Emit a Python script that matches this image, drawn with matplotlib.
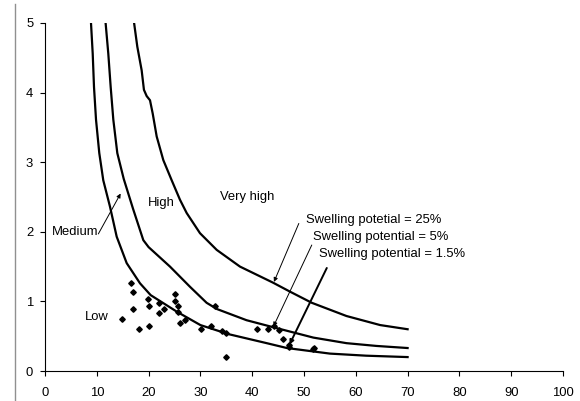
import matplotlib
matplotlib.use("Agg")
import matplotlib.pyplot as plt
from matplotlib.lines import Line2D

plt.rcParams['font.family'] = ['Liberation Sans', 'DejaVu Sans']

# swelling potential boundary curves (clay fraction vs activity)
x_15 = [8.88, 9.21, 9.46, 9.85, 10.48, 11.25, 12.55, 13.84, 15.77, 18.34, 20.4, 25.5, 30.0, 35.4,
        42.8, 46.7, 55.0, 62.0, 70.0]
y_15 = [5.0, 4.56, 4.08, 3.61, 3.13, 2.74, 2.36, 1.93, 1.55, 1.26, 1.09, 0.85, 0.66, 0.53,
        0.40, 0.33, 0.25, 0.22, 0.20]

x_5 = [11.7, 12.22, 12.68, 13.19, 13.96, 15.2, 17.0, 18.98, 20.0, 24.13, 27.99, 31.2, 33.2, 38.9,
       44.0, 51.8, 58.2, 64.0, 70.0]
y_5 = [5.0, 4.56, 4.08, 3.61, 3.13, 2.76, 2.33, 1.88, 1.78, 1.50, 1.21, 0.98, 0.89, 0.73,
       0.63, 0.48, 0.40, 0.36, 0.33]

x_25 = [17.2, 17.82, 18.66, 19.1, 19.63, 20.27, 20.79, 21.56, 22.84, 24.46, 26.06, 27.35, 29.92,
        33.15, 37.64, 44.0, 47.3, 51.5, 58.2, 64.7, 70.0]
y_25 = [5.0, 4.66, 4.32, 4.04, 3.95, 3.89, 3.70, 3.37, 3.03, 2.74, 2.46, 2.27, 1.98,
        1.74, 1.50, 1.27, 1.14, 0.98, 0.79, 0.66, 0.60]

# measured samples
clay = [14.9, 16.6, 17.0, 17.0, 18.1, 19.9, 20.1, 20.1, 22.1, 22.1, 23.0, 25.0, 25.0, 25.6, 25.6,
        26.1, 27.0, 30.1, 32.0, 32.9, 34.1, 35.0, 35.0, 41.0, 43.0, 44.2, 45.2, 46.0, 47.1, 47.1,
        51.7, 52.0]
activity = [0.74, 1.27, 1.14, 0.89, 0.61, 1.03, 0.93, 0.65, 0.97, 0.84, 0.89, 1.10, 1.01, 0.93, 0.85,
            0.69, 0.73, 0.61, 0.64, 0.93, 0.57, 0.54, 0.20, 0.60, 0.60, 0.64, 0.59, 0.46, 0.38, 0.35,
            0.31, 0.33]

fig = plt.figure(figsize=(5.8, 4.01), dpi=100)
ax = fig.add_axes([45 / 580, 30 / 401, 518 / 580, 348 / 401])

ax.plot(x_15, y_15, color='black', lw=1.6)
ax.plot(x_5, y_5, color='black', lw=1.6)
ax.plot(x_25, y_25, color='black', lw=1.6)
ax.plot(clay, activity, 'D', color='black', markersize=2.8, ls='none')

fs = 9.4
ax.text(10.4, 2.0, 'Medium', ha='right', va='center', fontsize=fs)
ax.text(22.4, 2.42, 'High', ha='center', va='center', fontsize=fs)
ax.text(10.0, 0.77, 'Low', ha='center', va='center', fontsize=fs)
ax.text(33.8, 2.50, 'Very high', ha='left', va='center', fontsize=fs)
ax.text(50.4, 2.17, 'Swelling potetial = 25%', ha='left', va='center', fontsize=fs)
ax.text(51.7, 1.93, 'Swelling potential = 5%', ha='left', va='center', fontsize=fs)
ax.text(52.95, 1.68, 'Swelling potential = 1.5%', ha='left', va='center', fontsize=fs)

thin = dict(arrowstyle='-|>', color='black', lw=0.7, mutation_scale=6, shrinkA=0, shrinkB=0)
thick = dict(arrowstyle='-|>', color='black', lw=1.4, mutation_scale=6, shrinkA=0, shrinkB=0)
ax.annotate('', xy=(14.6, 2.55), xytext=(10.3, 1.97), arrowprops=thin)
ax.annotate('', xy=(44.2, 1.28), xytext=(49.0, 2.12), arrowprops=thin)
ax.annotate('', xy=(44.1, 0.64), xytext=(51.5, 1.81), arrowprops=thin)
ax.annotate('', xy=(47.2, 0.38), xytext=(54.4, 1.48), arrowprops=thick)

ax.set_xlim(0, 100)
ax.set_ylim(0, 5)
ax.set_xticks(range(0, 101, 10))
ax.set_yticks(range(0, 6))
ax.spines['top'].set_visible(False)
ax.spines['right'].set_visible(False)
ax.spines['left'].set_linewidth(0.8)
ax.spines['bottom'].set_linewidth(0.8)
ax.tick_params(axis='both', direction='out', length=3.5, width=0.8, labelsize=fs)
ax.tick_params(axis='x', pad=8)
ax.tick_params(axis='y', pad=5)

# chart area border on the left
fig.add_artist(Line2D([15 / 580, 15 / 580], [0, 397 / 401], color='#909090', lw=1.0))

fig.savefig('out.png', dpi=100)
